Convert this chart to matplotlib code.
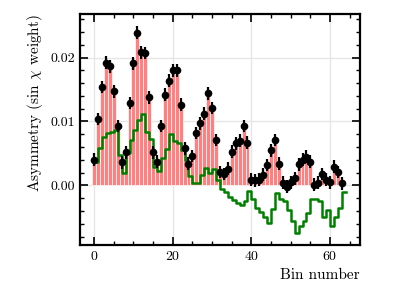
import numpy as np
import matplotlib
matplotlib.use("Agg")
import matplotlib.pyplot as plt
from matplotlib.ticker import MultipleLocator

plt.rcParams['font.family'] = 'serif'
plt.rcParams['font.serif'] = ['cmr10']
plt.rcParams['mathtext.fontset'] = 'cm'
plt.rcParams['axes.formatter.use_mathtext'] = True

# measured asymmetry per bin (points + red bars)
asym = [0.0040, 0.0104, 0.0154, 0.0192, 0.0186, 0.0147, 0.0093, 0.0036,
        0.0052, 0.0129, 0.0191, 0.0239, 0.0208, 0.0207, 0.0138, 0.0052,
        0.0037, 0.0093, 0.0142, 0.0164, 0.0180, 0.0180, 0.0126, 0.0058,
        0.0034, 0.0046, 0.0082, 0.0097, 0.0112, 0.0144, 0.0121, 0.0071,
        0.0021, 0.0018, 0.0026, 0.0053, 0.0066, 0.0070, 0.0093, 0.0067,
        0.0009, 0.0008, 0.0009, 0.0017, 0.0032, 0.0055, 0.0071, 0.0034,
        0.0004, -0.0002, 0.0005, 0.0011, 0.0033, 0.0040, 0.0045, 0.0037,
        0.0001, 0.0004, 0.0018, 0.0009, 0.0005, 0.0029, 0.0021, 0.0003]
asym_err = 0.001

# green reference curve
ref = [0.0037, 0.0059, 0.0076, 0.0082, 0.0083, 0.0087, 0.0048, 0.0019,
       0.0051, 0.0071, 0.0087, 0.0103, 0.0111, 0.0083, 0.0072, 0.0029,
       0.0023, 0.0043, 0.0057, 0.0080, 0.0069, 0.0067, 0.0055, 0.0040,
       0.0015, 0.0004, 0.0004, 0.0016, 0.0028, 0.0020, 0.0025, 0.0008,
       -0.0006, -0.0011, -0.0018, -0.0023, -0.0027, -0.0031, -0.0025, -0.0008,
       -0.0021, -0.0035, -0.0042, -0.0049, -0.0059, -0.0037, -0.0012, -0.0021,
       -0.0024, -0.0038, -0.0056, -0.0074, -0.0064, -0.0056, -0.0043, -0.0021,
       -0.0022, -0.0025, -0.0050, -0.0038, -0.0064, -0.0050, -0.0036, -0.0010]

bins = np.arange(len(asym))

fig = plt.figure(figsize=(3.99, 2.99), dpi=100)
ax = fig.add_axes([0.2005, 0.181, 0.7015, 0.772])

ax.grid(True, color='#e6e6e6', linewidth=1.0, zorder=0)
ax.bar(bins, asym, width=1.0, color='#ff8080', edgecolor='white', linewidth=0.5, zorder=2)
edges = np.arange(len(ref) + 1)
ax.step(edges, ref + [ref[-1]], where='post', color='green', linewidth=1.8, zorder=3)
ax.errorbar(bins, asym, yerr=asym_err, fmt='o', color='black', markersize=4.5,
            elinewidth=1.6, capsize=0, zorder=4)

ax.set_xlim(-3.6, 67.6)
ax.set_ylim(-0.0093, 0.0268)
ax.xaxis.set_major_locator(MultipleLocator(20))
ax.xaxis.set_minor_locator(MultipleLocator(5))
ax.yaxis.set_major_locator(MultipleLocator(0.01))
ax.yaxis.set_minor_locator(MultipleLocator(0.002))
ax.yaxis.set_major_formatter(plt.FormatStrFormatter('%.2f'))
ax.tick_params(which='both', direction='in', top=True, right=True, labelsize=10)
ax.tick_params(which='major', length=6, width=1.2)
ax.tick_params(which='minor', length=3, width=1.0)
for s in ax.spines.values():
    s.set_linewidth(1.6)

ax.set_xlabel('Bin number', fontsize=11, loc='right')
ax.set_ylabel(r'Asymmetry (sin $\chi$ weight)', fontsize=11, loc='top')

fig.savefig('out.png', dpi=100)
